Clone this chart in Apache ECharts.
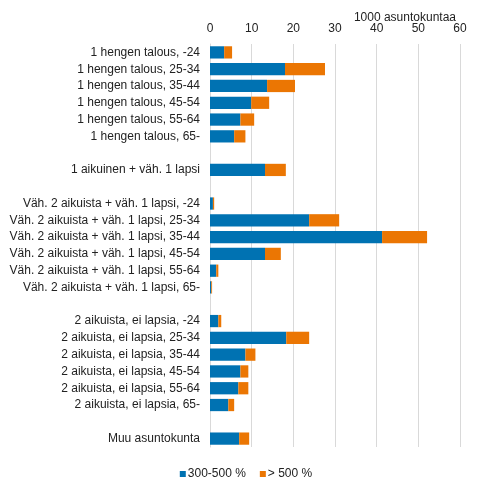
<!DOCTYPE html>
<html>
<head>
<meta charset="utf-8">
<script src="https://cdn.jsdelivr.net/npm/echarts@6/dist/echarts.min.js"></script>
<style>
    html, body { margin: 0; padding: 0; background: #fff; }
    #chart { width: 492px; height: 491px; }
</style>
</head>
<body>
<div id="chart"></div>
<script>
// kategoriat ylhäältä alas, tyhjät rivit ryhmien välissä
var categories = [
    '1 hengen talous, -24', '1 hengen talous, 25-34', '1 hengen talous, 35-44',
    '1 hengen talous, 45-54', '1 hengen talous, 55-64', '1 hengen talous, 65-',
    ' ',
    '1 aikuinen + väh. 1 lapsi',
    '  ',
    'Väh. 2 aikuista + väh. 1 lapsi, -24', 'Väh. 2 aikuista + väh. 1 lapsi, 25-34',
    'Väh. 2 aikuista + väh. 1 lapsi, 35-44', 'Väh. 2 aikuista + väh. 1 lapsi, 45-54',
    'Väh. 2 aikuista + väh. 1 lapsi, 55-64', 'Väh. 2 aikuista + väh. 1 lapsi, 65-',
    '   ',
    '2 aikuista, ei lapsia, -24', '2 aikuista, ei lapsia, 25-34', '2 aikuista, ei lapsia, 35-44',
    '2 aikuista, ei lapsia, 45-54', '2 aikuista, ei lapsia, 55-64', '2 aikuista, ei lapsia, 65-',
    '    ',
    'Muu asuntokunta'
];
var seriesNames = ['300-500 %', '> 500 %'];
var values300to500 = [3.4, 18.0, 13.7, 9.9, 7.3, 5.8, null, 13.2, null,
    0.7, 23.8, 41.3, 13.2, 1.5, 0.3, null,
    2.0, 18.3, 8.5, 7.3, 6.8, 4.4, null, 7.0];
var valuesOver500 = [1.9, 9.6, 6.7, 4.3, 3.3, 2.7, null, 5.0, null,
    0.3, 7.2, 10.8, 3.8, 0.5, 0.2, null,
    0.7, 5.5, 2.4, 1.9, 2.4, 1.4, null, 2.4];
var unitLabel = '1000 asuntokuntaa';

var chart = echarts.init(document.getElementById('chart'));
var font = 'Liberation Sans, Arial, sans-serif';
var option = {
    animation: false,
    textStyle: { fontFamily: font },
    title: {
        text: unitLabel,
        right: 31,
        top: 7,
        textStyle: { fontSize: 12, fontWeight: 'normal', color: '#222', fontFamily: font }
    },
    legend: {
        data: seriesNames,
        bottom: 6,
        left: 'center',
        itemWidth: 6,
        itemHeight: 6,
        itemGap: 14,
        icon: 'rect',
        textStyle: { fontSize: 12, color: '#222', padding: [0, 0, 0, -3] }
    },
    grid: {
        left: 210,
        right: 32,
        top: 44,
        bottom: 44,
        containLabel: false
    },
    xAxis: {
        type: 'value',
        position: 'top',
        min: 0,
        max: 60,
        interval: 10,
        axisLine: { show: false },
        axisTick: { show: false },
        axisLabel: { fontSize: 12, color: '#222', margin: 9 },
        splitLine: { lineStyle: { color: '#d9d9d9', width: 1 } }
    },
    yAxis: {
        type: 'category',
        inverse: true,
        data: categories,
        axisLine: { show: true, lineStyle: { color: '#d9d9d9' } },
        axisTick: { show: false },
        axisLabel: { fontSize: 12, color: '#222', margin: 10, interval: 0 }
    },
    series: [{
        name: seriesNames[0],
        type: 'bar',
        stack: 'total',
        barCategoryGap: '27%',
        itemStyle: { color: '#0072b2' },
        data: values300to500
    }, {
        name: seriesNames[1],
        type: 'bar',
        stack: 'total',
        barCategoryGap: '27%',
        itemStyle: { color: '#eb7603' },
        data: valuesOver500
    }]
};
chart.setOption(option);
</script>
</body>
</html>
